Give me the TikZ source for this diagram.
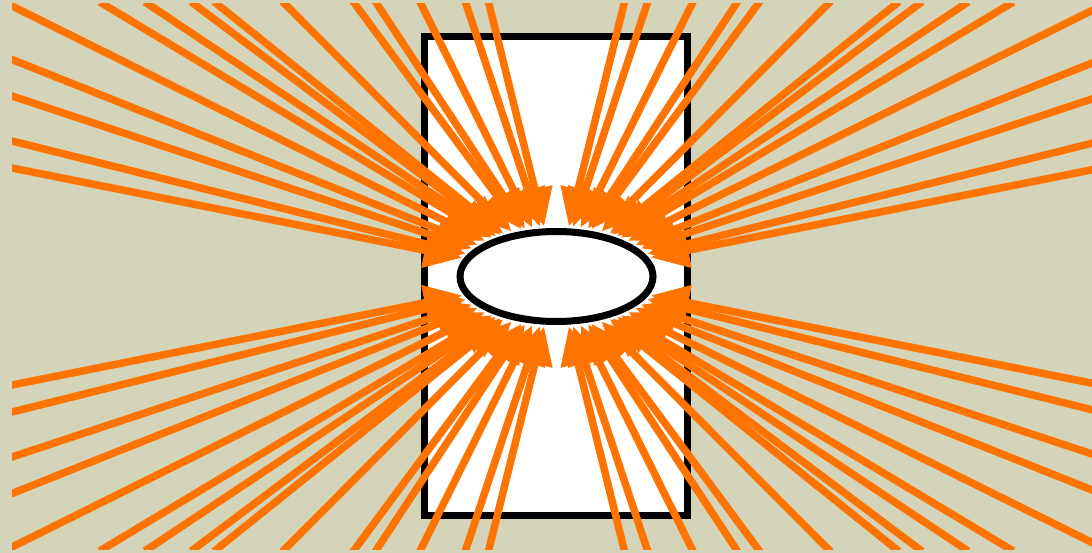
\documentclass[tikz,border=0pt]{standalone}
\usepackage{xcolor}
\definecolor{paper}{RGB}{212,212,186}
\definecolor{rayorange}{RGB}{255,115,0}
\usetikzlibrary{arrows.meta, shapes.geometric}

\begin{document}
\begin{tikzpicture}[x=1pt, y=-1pt,
    ray/.style={draw=rayorange, line width=7.5pt, line cap=rect,
                -{Triangle[length=38pt, width=34pt]}, shorten >=2pt}]
  % Background
  \fill[paper] (0,0) rectangle (1092,553);
  \useasboundingbox (0,0) rectangle (1092,553);

  % White card
  \draw[fill=white, line width=7pt] (424.5,37) rectangle (687.5,515.5);

  % Ellipse in the middle
  \node[draw, ellipse, fill=white, line width=7pt, inner sep=0pt,
        minimum width=193pt, minimum height=90pt] (blob) at (556.5,276.5) {};

  % Rays, clipped to the frame
  \begin{scope}
    \clip (12,4) rectangle (1101,549);
    % left and right edges
    \foreach \y [count=\i] in {6,59.5,96,141,168,385,412,457,493.5,547} {
      \coordinate (w\i) at (12,\y);
      \coordinate (e\i) at (1101,\y);
      \draw[ray] (w\i) -- (blob);
      \draw[ray] (e\i) -- (blob);
    }
    % top and bottom edges
    \foreach \x [count=\i] in {103,148,194,217,285,355,377,421,466,489,
                               624,647,692,736,758,828,896,919,965,1010} {
      \coordinate (n\i) at (\x,4);
      \coordinate (s\i) at (\x,549);
      \draw[ray] (n\i) -- (blob);
      \draw[ray] (s\i) -- (blob);
    }
  \end{scope}
\end{tikzpicture}
\end{document}
